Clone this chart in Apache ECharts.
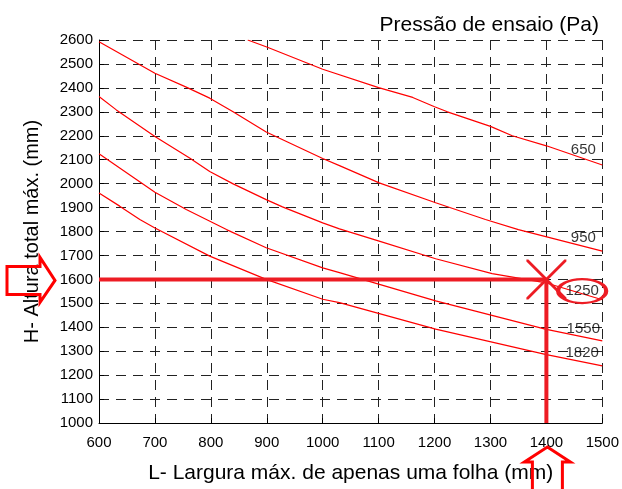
<!DOCTYPE html>
<html>
<head>
<meta charset="utf-8">
<script src="https://cdn.jsdelivr.net/npm/echarts@6/dist/echarts.min.js"></script>
<style>
html,body{margin:0;padding:0;background:#fff}
#main{width:622px;height:489px}
</style>
</head>
<body>
<div id="main"></div>
<script>
// curvas de pressão: [largura (mm), altura (mm)]
var curve650 = [[866,2600],[900,2571],[1000,2478],[1100,2401],[1161,2360],[1200,2321],[1223,2300],[1300,2239],[1339,2200],[1400,2158],[1500,2078]];
var curve950 = [[600,2593],[700,2461],[756,2403],[798,2357],[839,2301],[899,2216],[1000,2105],[1030,2075],[1101,2003],[1202,1920],[1291,1850],[1350,1808],[1500,1718]];
var curve1250 = [[600,2364],[631,2308],[700,2197],[762,2107],[798,2051],[839,2000],[899,1933],[928,1903],[1000,1836],[1030,1811],[1101,1760],[1202,1686],[1303,1624],[1400,1585],[1500,1515]];
var curve1550 = [[600,2125],[700,1964],[756,1892],[792,1850],[828,1808],[899,1732],[1000,1648],[1030,1628],[1202,1510],[1398,1392],[1500,1343]];
var curve1820 = [[600,1961],[637,1906],[673,1850],[700,1815],[798,1697],[899,1600],[1000,1517],[1030,1503],[1202,1392],[1398,1287],[1500,1239]];

var pressureLabels = ['650', '950', '1250', '1550', '1820'];
var labelPoints = [[1466,2142],[1466,1775],[1464,1551],[1466,1395],[1464,1295]];

// ponto escolhido
var selWidth = 1400;
var selHeight = 1600;

var xMin = 600, xMax = 1500, yMin = 1000, yMax = 2600;

var red = '#ff0000';
var darkRed = '#ed1c24';

var chart = echarts.init(document.getElementById('main'));

function curveSeries(data) {
    return {
        type: 'line',
        data: data,
        showSymbol: false,
        symbol: 'none',
        lineStyle: {color: red, width: 1.2},
        z: 3
    };
}

function plain(v) {
    return String(v);
}

var option = {
    animation: false,
    backgroundColor: '#fff',
    title: {
        text: 'Pressão de ensaio (Pa)',
        right: 18,
        top: 10,
        textStyle: {fontFamily: 'Liberation Sans', fontSize: 21, fontWeight: 'normal', color: '#000'}
    },
    grid: {left: 99, right: 18, top: 40, bottom: 65},
    xAxis: {
        type: 'value',
        min: xMin,
        max: xMax,
        interval: 100,
        name: 'L- Largura máx. de apenas uma folha (mm)',
        nameLocation: 'middle',
        nameGap: 40,
        nameTextStyle: {fontFamily: 'Liberation Sans', fontSize: 21, color: '#000'},
        axisLine: {show: true, lineStyle: {color: '#000', width: 1}},
        axisTick: {show: true, inside: true, length: 5, lineStyle: {color: '#000'}},
        axisLabel: {fontFamily: 'Liberation Sans', fontSize: 15, color: '#000', margin: 12, formatter: plain},
        splitLine: {show: true, lineStyle: {color: '#222', width: 1, type: [10, 7]}}
    },
    yAxis: {
        type: 'value',
        min: yMin,
        max: yMax,
        interval: 100,
        name: 'H- Altura total máx. (mm)',
        nameLocation: 'middle',
        nameGap: 57,
        nameTextStyle: {fontFamily: 'Liberation Sans', fontSize: 20, color: '#000'},
        axisLine: {show: true, lineStyle: {color: '#000', width: 1}},
        axisTick: {show: true, inside: true, length: 5, lineStyle: {color: '#000'}},
        axisLabel: {fontFamily: 'Liberation Sans', fontSize: 15, color: '#000', margin: 6, formatter: plain},
        splitLine: {show: true, lineStyle: {color: '#222', width: 1, type: [10, 7]}}
    },
    series: [
        curveSeries(curve650),
        curveSeries(curve950),
        curveSeries(curve1250),
        curveSeries(curve1550),
        curveSeries(curve1820),
        {
            type: 'line',
            data: [[xMin, selHeight], [selWidth, selHeight]],
            symbol: 'none',
            lineStyle: {color: darkRed, width: 4},
            z: 5
        },
        {
            type: 'line',
            data: [[selWidth, yMin], [selWidth, selHeight]],
            symbol: 'none',
            lineStyle: {color: darkRed, width: 4},
            z: 5
        },
        {
            type: 'scatter',
            data: [[selWidth, selHeight]],
            symbol: 'path://M0,0L2,0L20,18L38,0L40,0L40,2L22,20L40,38L40,40L38,40L20,22L2,40L0,40L0,38L18,20L0,2Z',
            symbolSize: [40, 40],
            itemStyle: {color: darkRed, opacity: 1},
            z: 6
        },
        {
            type: 'scatter',
            data: [labelPoints[2]],
            symbol: 'circle',
            symbolSize: [48, 24],
            itemStyle: {color: 'rgba(0,0,0,0)', borderColor: darkRed, borderWidth: 3, opacity: 1},
            clip: false,
            z: 6
        },
        {
            type: 'scatter',
            data: labelPoints,
            symbolSize: 0,
            clip: false,
            label: {
                show: true,
                position: 'inside',
                formatter: function (p) { return pressureLabels[p.dataIndex]; },
                fontFamily: 'Liberation Sans',
                fontSize: 15,
                color: '#000',
                textBorderWidth: 0
            },
            z: 7
        }
    ]
};
chart.setOption(option);

// setas de indicação (fora do gráfico)
var tip = chart.convertToPixel({gridIndex: 0}, [selWidth, selHeight]);
var bottom = chart.convertToPixel({gridIndex: 0}, [selWidth, yMin]);
var lx = 55, ly = tip[1] + 1;
var bx = tip[0] + 1, by = bottom[1] + 24;
chart.setOption({
    graphic: [
        {
            type: 'polygon',
            shape: {points: [[lx - 48, ly - 14], [lx - 15, ly - 14], [lx - 15, ly - 23], [lx, ly], [lx - 15, ly + 22], [lx - 15, ly + 14], [lx - 48, ly + 14]]},
            style: {fill: 'none', stroke: red, lineWidth: 3},
            z: 100
        },
        {
            type: 'polyline',
            shape: {points: [[bx - 15, by + 45], [bx - 15, by + 15], [bx - 23, by + 15], [bx, by], [bx + 23, by + 15], [bx + 15, by + 15], [bx + 15, by + 45]]},
            style: {fill: 'none', stroke: red, lineWidth: 3},
            z: 100
        }
    ]
});
</script>
</body>
</html>
